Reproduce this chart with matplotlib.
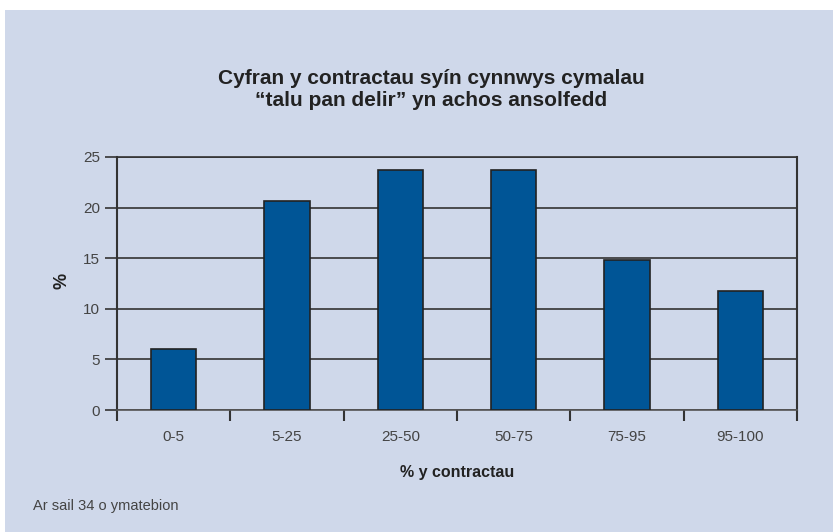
import matplotlib
matplotlib.use("Agg")
import matplotlib.pyplot as plt
from matplotlib.patches import Rectangle

categories = ["0-5", "5-25", "25-50", "50-75", "75-95", "95-100"]
values = [6.0, 20.7, 23.7, 23.7, 14.8, 11.8]
y_ticks = [0, 5, 10, 15, 20, 25]

title = "Cyfran y contractau syín cynnwys cymalau\n\u201ctalu pan delir\u201d yn achos ansolfedd"
xlabel = "% y contractau"
ylabel = "%"
note = "Ar sail 34 o ymatebion"

plt.rcParams['font.family'] = ['Liberation Sans', 'DejaVu Sans']

W, H = 833, 532
bg = "#CFD8EA"
fig = plt.figure(figsize=(W / 100, H / 100), dpi=100)
fig.patch.set_facecolor("white")
fig.add_artist(Rectangle((5 / W, 0), 1 - 5 / W, 1 - 10 / H, transform=fig.transFigure,
                         facecolor=bg, edgecolor="none", zorder=0))

ax = fig.add_axes([117 / W, 1 - 410 / H, (797 - 117) / W, (410 - 157) / H])
ax.set_facecolor(bg)
x = list(range(len(categories)))
ax.bar(x, values, width=0.4, color="#005596", edgecolor="#222222", linewidth=1.2, zorder=3)
ax.set_xlim(-0.5, len(categories) - 0.5)
ax.set_ylim(0, 25)
ax.set_yticks(y_ticks)
ax.set_yticklabels([str(t) for t in y_ticks], fontsize=11, color="#444444")
ax.tick_params(axis="y", length=9, width=1.2, color="#333333", pad=3)
ax.set_xticks([i + 0.5 for i in range(-1, len(categories))])
ax.set_xticklabels([])
ax.tick_params(axis="x", length=8, width=1.5, color="#333333")
for i, c in enumerate(categories):
    ax.text(i, -2.7, c, ha="center", va="center", fontsize=11, color="#444444")
ax.yaxis.grid(True, color="#333333", linewidth=1.2, zorder=1)
for s in ["left", "right"]:
    ax.spines[s].set_color("#333333")
    ax.spines[s].set_linewidth(1.5)
ax.spines["top"].set_color("#333333")
ax.spines["top"].set_linewidth(1.2)
ax.spines["bottom"].set_color("#555555")
ax.spines["bottom"].set_linewidth(1.2)

fig.text(431 / W, 1 - 89 / H, title, ha="center", va="center", fontsize=15,
         fontweight="bold", color="#222222", linespacing=1.2)
fig.text(62 / W, 1 - 281 / H, ylabel, ha="center", va="center", fontsize=13,
         fontweight="bold", color="#222222", rotation=90)
fig.text(457 / W, 1 - 472 / H, xlabel, ha="center", va="center", fontsize=11.5,
         fontweight="bold", color="#222222")
fig.text(33 / W, 1 - 506 / H, note, ha="left", va="center", fontsize=10.5, color="#444444")

fig.savefig("out.png", dpi=100, facecolor=fig.get_facecolor())
